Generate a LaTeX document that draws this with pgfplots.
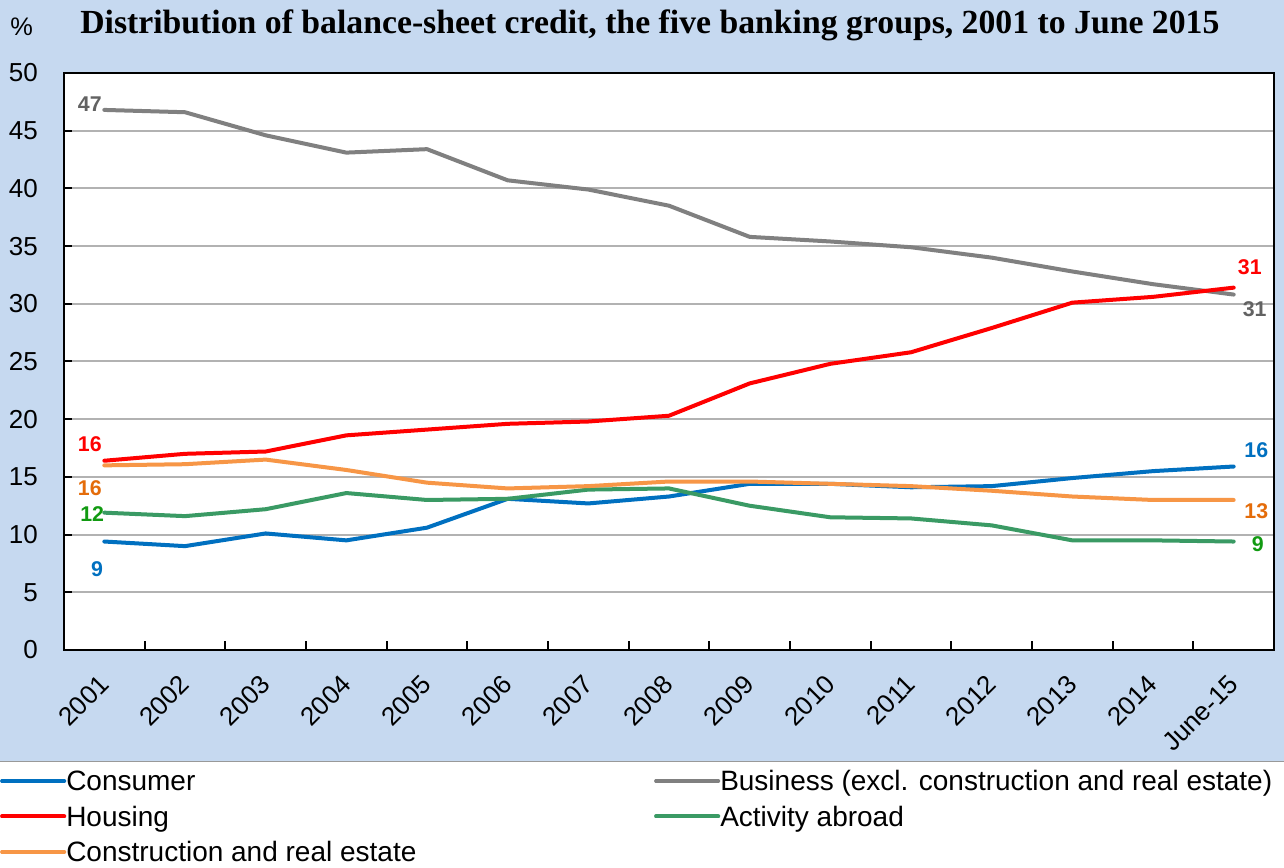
\documentclass[border=0pt]{standalone}
\usepackage{pgfplots}
\pgfplotsset{compat=1.18}
\usepackage{pgfplotstable}
\usepackage{fontspec}
\setmainfont{Liberation Sans}
\newfontfamily\titlefont{Liberation Serif}

\definecolor{bgblue}{HTML}{C6D9F0}
\definecolor{cons}{HTML}{0070C0}
\definecolor{bus}{HTML}{808080}
\definecolor{hous}{HTML}{FF0000}
\definecolor{abroad}{HTML}{3A9A64}
\definecolor{constr}{HTML}{F79646}
\definecolor{buslab}{HTML}{626262}
\definecolor{constrlab}{HTML}{E46C0A}
\definecolor{abroadlab}{HTML}{119A11}

\pgfplotsset{
  legline/.style={legend image code/.code={\draw[##1] (0pt,0pt) -- (43.5pt,0pt); \path (0pt,0pt) -- (46.5pt,0pt);}},
}

% shares of balance-sheet credit, per cent
\pgfplotstableread{
x  cons  bus   hous  abroad constr
0  9.4   46.8  16.4  11.9   16.0
1  9.0   46.6  17.0  11.6   16.1
2  10.1  44.6  17.2  12.2   16.5
3  9.5   43.1  18.6  13.6   15.6
4  10.6  43.4  19.1  13.0   14.5
5  13.1  40.7  19.6  13.1   14.0
6  12.7  39.9  19.8  13.9   14.2
7  13.3  38.5  20.3  14.0   14.6
8  14.4  35.8  23.1  12.5   14.6
9  14.4  35.4  24.8  11.5   14.4
10 14.1  34.9  25.8  11.4   14.2
11 14.2  34.0  27.9  10.8   13.8
12 14.9  32.8  30.1  9.5    13.3
13 15.5  31.7  30.6  9.5    13.0
14 15.9  30.8  31.4  9.4    13.0
}\credit

\begin{document}
\begin{tikzpicture}
\fill[white] (0,0) rectangle (963pt,650.25pt);
\fill[bgblue] (0,78.75pt) rectangle (963pt,650.25pt);
\draw[gray!80, line width=0.75pt] (0,78.75pt) -- (963pt,78.75pt);
\node[anchor=base west, inner sep=0pt, font=\titlefont\bfseries\fontsize{25.3}{28}\selectfont]
  at (60pt,624.75pt) {Distribution of balance-sheet credit, the five banking groups, 2001 to June 2015};
\node[anchor=base west, inner sep=0pt, font=\fontsize{19}{22}\selectfont] at (7.5pt,623.9pt) {\%};

\begin{axis}[
  at={(48pt,162.75pt)}, anchor=south west,
  scale only axis, width=907.5pt, height=432.75pt,
  xmin=-0.5, xmax=14.5, ymin=0, ymax=50,
  xtick={0,...,14},
  xticklabels={2001,2002,2003,2004,2005,2006,2007,2008,2009,2010,2011,2012,2013,2014,June-15},
  minor xtick={0.5,1.5,...,13.5},
  ytick={0,5,...,50},
  yticklabel={\pgfmathprintnumber{\tick}\hspace*{19.5pt}},
  tick pos=left, tick align=inside,
  major tick length=6pt, minor tick length=6.75pt,
  tick style={black, line width=1.5pt},
  every major x tick/.append style={draw=none},
  ymajorgrids, major grid style={gray!60, line width=1.5pt},
  axis line style={black, line width=1.5pt},
  axis background/.style={fill=white},
  /pgf/number format/assume math mode=true,
  tick label style={font=\fontsize{19.5}{22}\selectfont},
  yticklabel style={anchor=east, inner sep=0pt},
  xticklabel style={inner sep=0pt, yshift=-22.5pt, rotate=45, anchor=east},
  clip=false,
  legend columns=2, legend cell align=left,
  legend style={at={(-0.0529,-0.1958)}, anchor=north west, draw=none, fill=none,
    inner sep=0pt, column sep=0pt, row sep=0pt,
    nodes={inner sep=0pt, text height=20.8pt, text depth=5.8pt, font=\fontsize{21}{24}\selectfont}},
  every axis plot/.append style={line width=3pt, line join=round, line cap=round},
]
\addplot[cons, legline] table[x=x, y=cons] {\credit};
\addlegendentry{\makebox[441pt][l]{Consumer}}
\addplot[bus, legline] table[x=x, y=bus] {\credit};
\addlegendentry{Business (excl. construction and real estate)}
\addplot[hous, legline] table[x=x, y=hous] {\credit};
\addlegendentry{\makebox[441pt][l]{Housing}}
\addplot[abroad, legline] table[x=x, y=abroad] {\credit};
\addlegendentry{Activity abroad}
\addplot[constr, legline] table[x=x, y=constr] {\credit};
\addlegendentry{\makebox[441pt][l]{Construction and real estate}}

% value labels at both ends
\begin{scope}[every node/.style={font=\bfseries\fontsize{16}{18}\selectfont, inner sep=0pt}]
\node[buslab] at (axis cs:-0.18,47.3) {47};
\node[hous] at (axis cs:-0.18,17.8) {16};
\node[constrlab] at (axis cs:-0.18,14.0) {16};
\node[abroadlab] at (axis cs:-0.15,11.8) {12};
\node[cons] at (axis cs:-0.09,7.0) {9};
\node[hous] at (axis cs:14.2,33.2) {31};
\node[buslab] at (axis cs:14.26,29.5) {31};
\node[cons] at (axis cs:14.28,17.3) {16};
\node[constrlab] at (axis cs:14.28,12.0) {13};
\node[abroadlab] at (axis cs:14.3,9.2) {9};
\end{scope}
\end{axis}
\pgfresetboundingbox
\useasboundingbox (0,0) rectangle (963pt,650.25pt);
\end{tikzpicture}
\end{document}
